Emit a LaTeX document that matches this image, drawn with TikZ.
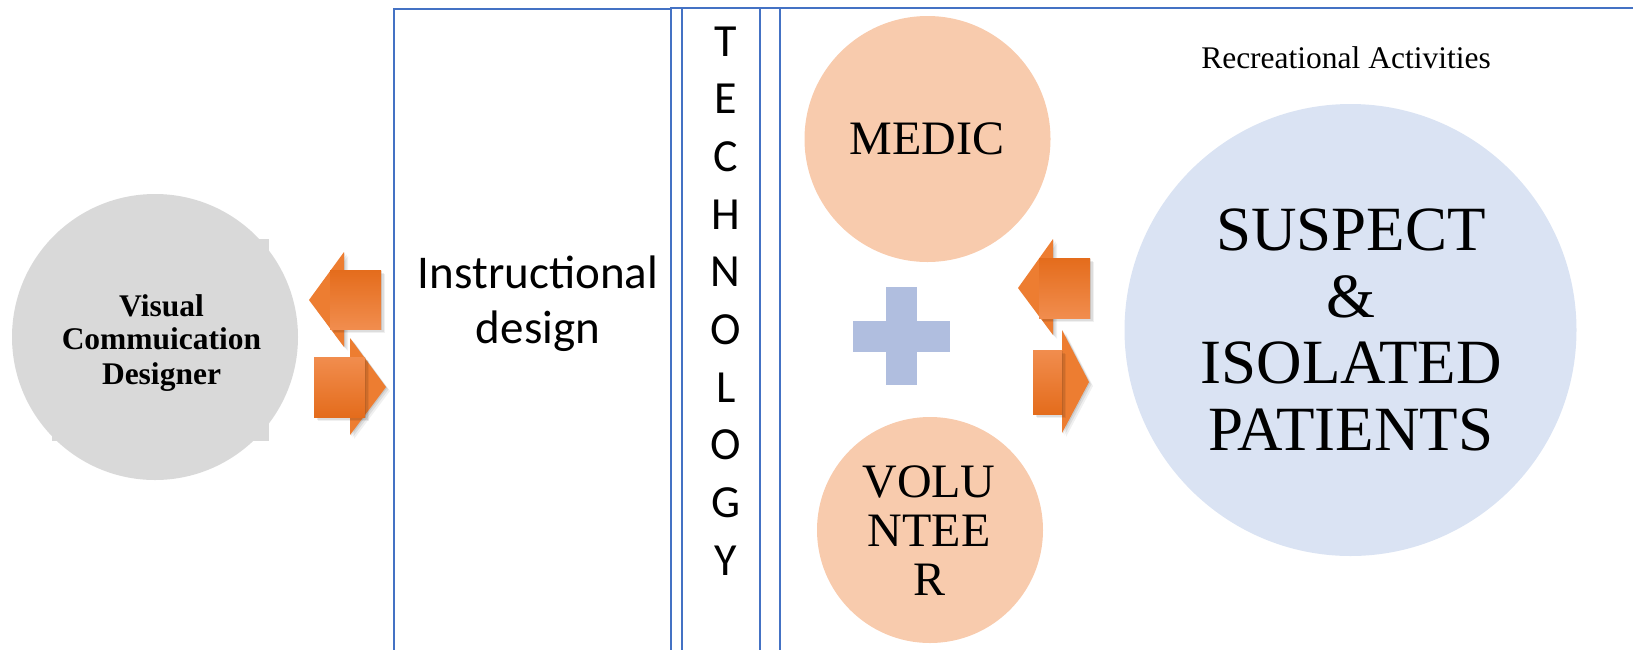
\documentclass[tikz,border=0pt]{standalone}
\usepackage{fontspec}
\setmainfont{Liberation Serif}
\newfontfamily\calibrifont{Carlito}

\definecolor{frameblue}{HTML}{4472C4}
\definecolor{designergray}{HTML}{D9D9D9}
\definecolor{peach}{HTML}{F8CBAD}
\definecolor{paleblue}{HTML}{DAE3F3}
\definecolor{plusblue}{HTML}{B0BEDF}
\definecolor{orangedark}{HTML}{E46C1C}
\definecolor{orangelight}{HTML}{F18D4E}
\definecolor{orangemid}{HTML}{ED7D31}

\tikzset{
  frame/.style={draw=frameblue, line width=2pt},
  disc/.style={circle, inner sep=0pt, outer sep=0pt, draw=none},
  txt/.style={inner sep=0pt, outer sep=0pt, anchor=base, text=black},
  headtri/.style={fill=orangemid},
  bodyup/.style={top color=orangedark, bottom color=orangelight},
  bodydown/.style={top color=orangelight, bottom color=orangedark},
}

% soft drop shadow under a closed path
\newcommand\castshadow[1]{%
  \foreach \s/\o in {1/0.10,2.5/0.08,4/0.06}{%
    \fill[black, opacity=\o, xshift=\s pt, yshift=-\s pt] #1;}}

\begin{document}
\begin{tikzpicture}[x=1pt, y=-1pt]
\useasboundingbox (0,0) rectangle (1633,649);
\clip (0,0) rectangle (1633,649);

% ---- frames ----
\draw[frame] (394,8.5) rectangle (671,700);
\draw[frame] (671,7.5) rectangle (780,700);
\draw[frame] (682,7.5) -- (682,700);
\draw[frame] (760,7.5) -- (760,700);
\draw[frame] (780,8) -- (1700,8);

% ---- designer ----
\fill[designergray] (52,239) rectangle (269,441);
\node[disc, fill=designergray, minimum size=286pt] (designer) at (155,337) {};
\node[txt, font=\fontsize{31.5}{31.5}\selectfont\bfseries] (des1) at (161.5,316) {Visual};
\node[txt, font=\fontsize{31.5}{31.5}\selectfont\bfseries] (des2) at (161.5,349) {Commuication};
\node[txt, font=\fontsize{31.5}{31.5}\selectfont\bfseries] (des3) at (161.5,384) {Designer};

% ---- left arrow pair ----
\castshadow{(309,300) -- (344,252) -- (344,347) -- cycle}
\fill[headtri] (309,300) -- (344,252) -- (344,347) -- cycle;
\castshadow{(330,270) rectangle (381,329)}
\fill[bodyup] (330,270) rectangle (381,329);

\castshadow{(386,387) -- (350,338) -- (350,435) -- cycle}
\fill[headtri] (386,387) -- (350,338) -- (350,435) -- cycle;
\castshadow{(314,357) rectangle (365,417)}
\fill[bodydown] (314,357) rectangle (365,417);

% ---- instructional design ----
\node[txt, font=\calibrifont\fontsize{47}{47}\selectfont] (ins1) at (538,288) {Instructional};
\node[txt, font=\calibrifont\fontsize{47}{47}\selectfont] (ins2) at (538,343.5) {design};

% ---- technology column ----
\foreach \ch [count=\i from 0] in {T,E,C,H,N,O,L,O,G,Y}{
  \node[txt, font=\calibrifont\fontsize{46}{46}\selectfont] (tech\i) at (725.7,56+57.7*\i) {\ch};
}

% ---- medic & volunteer ----
\node[disc, fill=peach, minimum size=246pt] (medic) at (927.5,139) {};
\node[txt, font=\fontsize{48}{48}\selectfont] (medictxt) at (927,154) {MEDIC};

\node[disc, fill=peach, minimum size=226pt] (volunteer) at (930,530) {};
\node[txt, font=\fontsize{48}{48}\selectfont] (vol1) at (929,497) {VOLU};
\node[txt, font=\fontsize{48}{48}\selectfont] (vol2) at (929,546) {NTEE};
\node[txt, font=\fontsize{48}{48}\selectfont] (vol3) at (929,595) {R};

% plus sign
\fill[plusblue] (886,287) rectangle (917,385);
\fill[plusblue] (853,321) rectangle (950,352);

% ---- right arrow pair ----
\castshadow{(1018,288) -- (1053,239) -- (1053,335) -- cycle}
\fill[headtri] (1018,288) -- (1053,239) -- (1053,335) -- cycle;
\castshadow{(1039,258) rectangle (1090,318)}
\fill[bodyup] (1039,258) rectangle (1090,318);

\castshadow{(1089,382) -- (1062,330) -- (1062,433) -- cycle}
\fill[headtri] (1089,382) -- (1062,330) -- (1062,433) -- cycle;
\castshadow{(1033,350) rectangle (1062,414)}
\fill[bodydown] (1033,350) rectangle (1062,414);

% ---- patients ----
\node[txt, font=\fontsize{31.5}{31.5}\selectfont] (recre) at (1346,68) {Recreational Activities};
\node[disc, fill=paleblue, minimum size=452pt] (patients) at (1350.5,330) {};
\node[txt, font=\fontsize{63}{63}\selectfont] (pat1) at (1351,250) {SUSPECT};
\node[txt, font=\fontsize{63}{63}\selectfont] (pat2) at (1351,317) {\&};
\node[txt, font=\fontsize{63}{63}\selectfont] (pat3) at (1351,383.5) {ISOLATED};
\node[txt, font=\fontsize{63}{63}\selectfont] (pat4) at (1351,450) {PATIENTS};
\end{tikzpicture}
\end{document}
